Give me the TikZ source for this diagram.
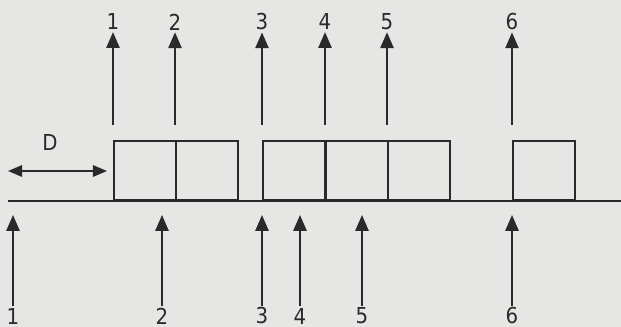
\documentclass[tikz,border=0pt]{standalone}
\usepackage{fontspec}
\setmainfont{DejaVu Sans Condensed}
\usetikzlibrary{positioning, arrows.meta}
\definecolor{pPaper}{HTML}{E6E6E4}
\definecolor{pInk}{HTML}{2A2A2A}

\begin{document}
\begin{tikzpicture}[x=0.02cm, y=-0.02cm, >={Triangle[length=9pt, width=7.5pt]},
          cell/.style={draw=pInk, line width=1.1pt, minimum width=1.24cm, minimum height=1.18cm,
            anchor=south west, inner sep=0pt},
          sig/.style={->, line width=1.1pt, pInk},
          num/.style={font=\fontsize{12.5}{14}\selectfont, text=pInk, inner sep=1pt}]
        \fill[pPaper] (0,0) rectangle (621,327);
        \useasboundingbox (0,0) rectangle (621,327);
        % time axis
        \coordinate (a0) at (8,201);
        \coordinate (a1) at (621,201);
        \draw[line width=1.1pt, pInk] (a0) -- (a1);
        % service blocks
        \node[cell] (c1) at (113,201) {};
        \node[cell] (c2) at (175,201) {};
        \node[cell] (c3) at (262,201) {};
        \node[cell] (c4) at (325,201) {};
        \node[cell] (c5) at (387,201) {};
        \node[cell] (c6) at (512,201) {};
        % departures (top)
        \node[num] (d1) at (113,22) {1};
        \node[num] (d2) at (175,22) {2};
        \node[num] (d3) at (262,22) {3};
        \node[num] (d4) at (325,22) {4};
        \node[num] (d5) at (387,22) {5};
        \node[num] (d6) at (512,22) {6};
        \draw[sig] (c1.north west) ++(0,-15) -- (d1.south);
        \draw[sig] (c2.north west) ++(0,-15) -- (d2.south);
        \draw[sig] (c3.north west) ++(0,-15) -- (d3.south);
        \draw[sig] (c4.north west) ++(0,-15) -- (d4.south);
        \draw[sig] (c5.north west) ++(0,-15) -- (d5.south);
        \draw[sig] (c6.north west) ++(0,-15) -- (d6.south);
        % arrivals (bottom)
        \node[num] (r1) at (13,316) {1};
        \node[num] (r2) at (162,316) {2};
        \node[num] (r3) at (262,316) {3};
        \node[num] (r4) at (300,316) {4};
        \node[num] (r5) at (362,316) {5};
        \node[num] (r6) at (512,316) {6};
        \coordinate (q1) at (13,215);
        \coordinate (q2) at (162,215);
        \coordinate (q3) at (262,215);
        \coordinate (q4) at (300,215);
        \coordinate (q5) at (362,215);
        \coordinate (q6) at (512,215);
        \draw[sig] (r1.north) -- (q1);
        \draw[sig] (r2.north) -- (q2);
        \draw[sig] (r3.north) -- (q3);
        \draw[sig] (r4.north) -- (q4);
        \draw[sig] (r5.north) -- (q5);
        \draw[sig] (r6.north) -- (q6);
        % delay D
        \coordinate (dl) at (8,171);
        \coordinate (dr) at (107,171);
        \draw[<->, line width=1.1pt, pInk, >={Triangle[length=8pt, width=6.5pt]}] (dl) -- (dr);
        \node[num] (dlab) at (50,142) {D};
      \end{tikzpicture}
\end{document}
